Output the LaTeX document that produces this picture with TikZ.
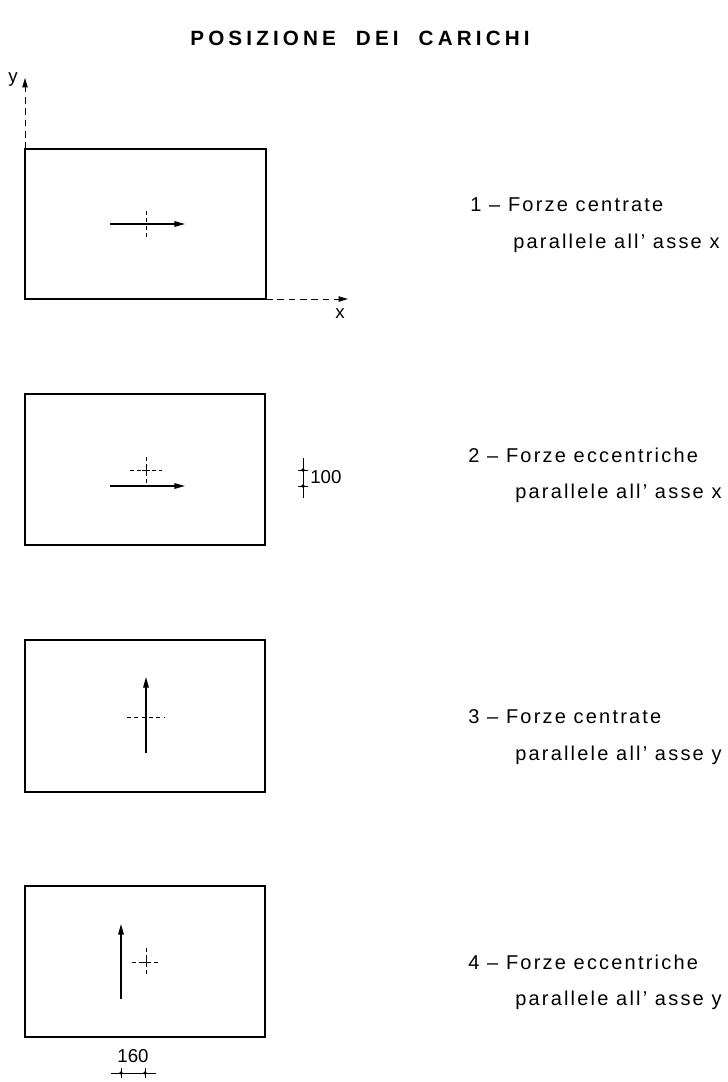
\documentclass[tikz,border=0pt]{standalone}
\usepackage{fontspec}
\setmainfont{Liberation Sans}[LetterSpace=11]
\newfontfamily\titlefont{Liberation Sans}[LetterSpace=20]
\usetikzlibrary{arrows.meta}
\tikzset{
  plate/.style={draw, line width=0.8pt},
  force/.style={line width=1pt, -{Triangle[length=8pt,width=4.2pt]}},
  axis/.style={line width=0.7pt, dash pattern=on 5pt off 3.5pt, -{Triangle[length=7pt,width=4pt]}},
  centre/.style={line width=0.5pt, dash pattern=on 3pt off 2.5pt},
  tick/.style={line width=0.6pt},
  dimline/.style={line width=0.5pt},
  label/.style={anchor=west, inner sep=0pt, font=\fontsize{15}{18}\selectfont},
  dimtext/.style={inner sep=0pt, font=\fontsize{14}{16}\selectfont\addfontfeature{LetterSpace=0}},
  dot/.style={circle, fill, inner sep=0pt, minimum size=2.8pt}
}
\begin{document}
\begin{tikzpicture}[x=0.75pt,y=-0.75pt]
\useasboundingbox (0,0) rectangle (728,1082);
\fill[white] (0,0) rectangle (728,1082);

% title
\node[inner sep=0pt, font=\titlefont\bfseries\fontsize{15.5}{18}\selectfont] (title) at (360,38)
  {POSIZIONE\hspace{15pt}DEI\hspace{15pt}CARICHI};

% ---------- case 1 ----------
\draw[plate] (25,149) rectangle (266,299);
\coordinate (o1) at (25,299);
\coordinate (yt) at (25,78);
\coordinate (xt) at (348,299);
\draw[axis] (25,149) -- (yt);
\draw[axis] (266,299) -- (xt);
\node[dimtext] (ylab) at (13,80) {y};
\node[dimtext] (xlab) at (340,314) {x};
\coordinate (c1) at (146,224);
\draw[centre] (146,211) -- (146,239);
\draw[tick] (142,224) -- (150,224);
\coordinate (f1a) at (110,224);
\coordinate (f1b) at (185,224);
\draw[force] (f1a) -- (f1b);
\node[label] (t1a) at (470,205) {1 -- Forze centrate};
\node[label] (t1b) at (513,243) {parallele all' asse x};

% ---------- case 2 ----------
\draw[plate] (25,394) rectangle (265,545);
\coordinate (c2) at (146,470);
\draw[centre] (130,470) -- (162,470);
\draw[centre] (146,457) -- (146,484);
\draw[tick] (142,470) -- (150,470) (146,466) -- (146,474);
\coordinate (f2a) at (110,486);
\coordinate (f2b) at (185,486);
\draw[force] (f2a) -- (f2b);
% dimension 100
\draw[dimline] (303,458) -- (303,498);
\draw[tick] (298,470) -- (308,470) (298,486) -- (308,486);
\node[dot] (d2a) at (303,470) {};
\node[dot] (d2b) at (303,486) {};
\node[dimtext, anchor=west] (n100) at (310,477) {100};
\node[label] (t2a) at (468,455) {2 -- Forze eccentriche};
\node[label] (t2b) at (515,493) {parallele all' asse x};

% ---------- case 3 ----------
\draw[plate] (25,640) rectangle (265,792);
\coordinate (c3) at (146,717);
\draw[centre] (127,717) -- (165,717);
\draw[centre] (146,700) -- (146,734);
\coordinate (f3a) at (146,753);
\coordinate (f3b) at (146,677);
\draw[force] (f3a) -- (f3b);
\node[label] (t3a) at (468,717) {3 -- Forze centrate};
\node[label] (t3b) at (515,755) {parallele all' asse y};

% ---------- case 4 ----------
\draw[plate] (25,886) rectangle (265,1037);
\coordinate (c4) at (146,962);
\draw[centre] (132,962) -- (160,962);
\draw[centre] (146,948) -- (146,976);
\draw[tick] (142,962) -- (150,962) (146,958) -- (146,966);
\coordinate (f4a) at (121,999);
\coordinate (f4b) at (121,924);
\draw[force] (f4a) -- (f4b);
% dimension 160
\draw[dimline] (111,1073) -- (156,1073);
\draw[tick] (121,1068) -- (121,1078) (145,1068) -- (145,1078);
\node[dot] (d4a) at (121,1073) {};
\node[dot] (d4b) at (145,1073) {};
\node[dimtext] (n160) at (133,1056) {160};
\node[label] (t4a) at (468,962) {4 -- Forze eccentriche};
\node[label] (t4b) at (515,1000) {parallele all' asse y};
\end{tikzpicture}
\end{document}
